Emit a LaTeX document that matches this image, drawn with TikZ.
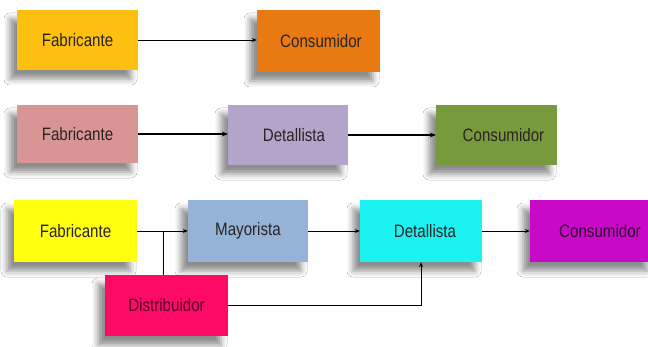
\documentclass[tikz,border=0pt]{standalone}
\usepackage{fontspec}
\setmainfont{Liberation Sans}[FakeStretch=0.84]
\usetikzlibrary{shadows.blur,arrows.meta}
\definecolor{cFabA}{HTML}{FDC010}
\definecolor{cConA}{HTML}{E97A12}
\definecolor{cFabB}{HTML}{D99594}
\definecolor{cDetB}{HTML}{B4A4CA}
\definecolor{cConB}{HTML}{779A3C}
\definecolor{cFabC}{HTML}{FFFF10}
\definecolor{cMayC}{HTML}{95B3D7}
\definecolor{cDetC}{HTML}{1CF2F2}
\definecolor{cConC}{HTML}{C80AC8}
\definecolor{cDisC}{HTML}{FC0A66}
\definecolor{txt}{HTML}{2A2424}
\tikzset{
  box/.style={rectangle, minimum width=121pt, minimum height=60pt, inner sep=0pt,
    text=txt, font=\fontsize{18}{20}\selectfont,
    blur shadow={shadow xshift=-7pt, shadow yshift=-9pt, shadow blur radius=6pt, shadow opacity=45}},
  arr/.style={-{Stealth[length=5pt,width=4pt]}, line width=0.8pt, black},
  arrb/.style={-{Stealth[length=6pt,width=5pt]}, line width=1.4pt, black}
}
\begin{document}
\begin{tikzpicture}[x=1pt,y=1pt]
\useasboundingbox (0,0) rectangle (648,-347);
\clip (0,0) rectangle (648,-347);
\fill[white] (0,0) rectangle (648,-347);
% row 1
\node[box, fill=cFabA, minimum width=121pt, minimum height=60pt] (f1) at (77.5,-40) {Fabricante};
\node[box, fill=cConA, minimum width=123pt, minimum height=62pt] (c1) at (318.5,-41) {\hspace*{5pt}Consumidor};
\draw[arr] (f1.east) -- (c1.west |- f1.east);
% row 2
\node[box, fill=cFabB, minimum width=121pt, minimum height=58pt] (f2) at (77.5,-134) {Fabricante};
\node[box, fill=cDetB, minimum width=120pt, minimum height=60pt] (d2) at (288,-135) {\hspace*{12pt}Detallista};
\node[box, fill=cConB, minimum width=121pt, minimum height=60pt] (c2) at (496.5,-135) {\hspace*{14pt}Consumidor};
\draw[arrb] (f2.east) -- (d2.west |- f2.east);
\draw[arrb] (d2.east) -- (c2.west |- d2.east);
% row 3
\node[box, fill=cFabC, minimum width=123pt, minimum height=62pt] (f3) at (75.5,-231) {Fabricante};
\node[box, fill=cMayC, minimum width=120pt, minimum height=62pt] (m3) at (248,-231) {Mayorista};
\node[box, fill=cDetC, minimum width=122pt, minimum height=62pt] (d3) at (421,-231) {\hspace*{8pt}Detallista};
\node[box, fill=cConC, minimum width=124pt, minimum height=62pt, text=black!75!cConC] (c3) at (592,-231) {\hspace*{16pt}Consumidor};
\node[box, fill=cDisC, minimum width=123pt, minimum height=61pt, text=black!65!cDisC] (dist) at (166.5,-305.5) {Distribuidor};
\coordinate (j) at (163,-231);
\draw[arr] (f3.east) -- (m3.west);
\draw[line width=0.8pt] (dist.north -| j) -- (j);
\draw[arr] (m3.east) -- (d3.west);
\draw[arr] (d3.east) -- (c3.west);
\draw[arr] (dist.east) -| (d3.south);
\end{tikzpicture}
\end{document}
